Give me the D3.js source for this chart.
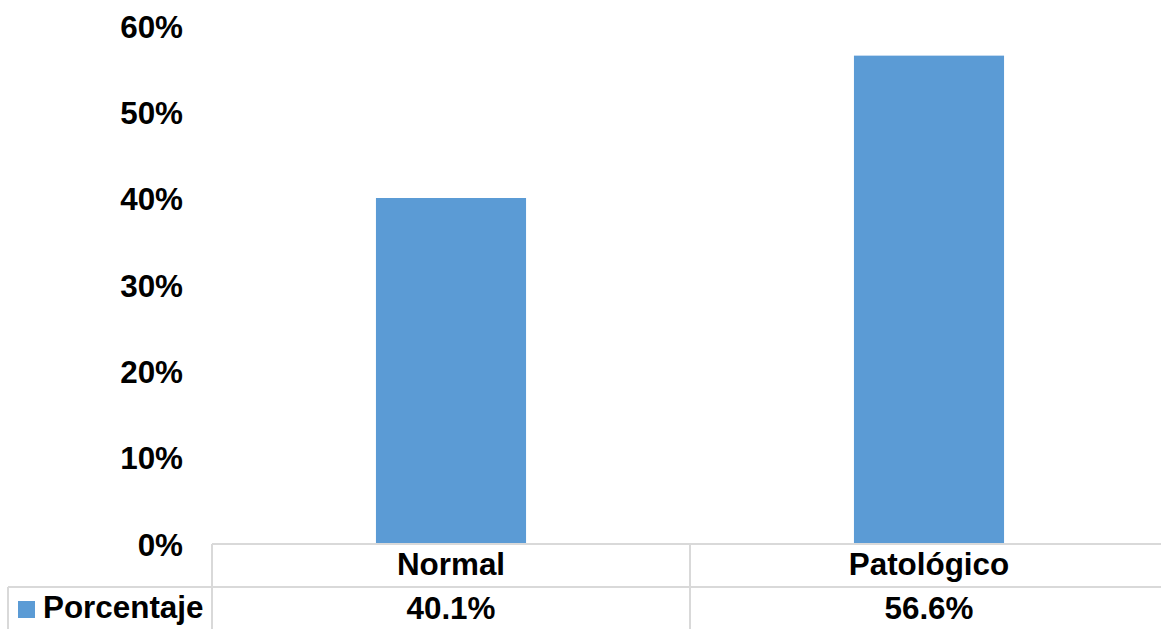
<!DOCTYPE html>
<html>
<head>
<meta charset="utf-8">
<script src="https://cdn.jsdelivr.net/npm/d3@7"></script>
<style>
html,body{margin:0;padding:0;background:#fff;overflow:hidden;}
text{font-family:Arial,"Liberation Sans",sans-serif;font-weight:bold;fill:#000;}
</style>
</head>
<body>
<svg id="chart" width="1161" height="629"></svg>
<script>
const categories = ["Normal", "Patológico"];
const values = [40.1, 56.6];
const valueLabels = ["40.1%", "56.6%"];
const yTicks = [0, 10, 20, 30, 40, 50, 60];
const seriesName = "Porcentaje";

const svg = d3.select("#chart");
const plotLeft = 212, plotRight = 1168, baseY = 544, topY = 26.3;
const row1 = 587, bottom = 640;
const fs = 31.4;
const blue = "#5B9BD5", grid = "#D9D9D9";

const x = d3.scaleBand().domain(categories).range([plotLeft, plotRight]).padding(0);
const y = d3.scaleLinear().domain([0, 60]).range([baseY, topY]);
const barW = x.bandwidth() * 0.314;

// bars
svg.selectAll("rect.bar").data(categories).enter().append("rect")
  .attr("class", "bar")
  .attr("x", d => x(d) + (x.bandwidth() - barW) / 2)
  .attr("width", barW)
  .attr("y", (d, i) => y(values[i]))
  .attr("height", (d, i) => y(0) - y(values[i]))
  .attr("fill", blue);

// y axis labels
const yAxis = d3.axisLeft(y).tickValues(yTicks).tickFormat(d => d + "%").tickSize(0).tickPadding(0);
const ya = svg.append("g").attr("transform", "translate(183,0)").call(yAxis);
ya.select(".domain").remove();
ya.selectAll("text").style("font-size", fs + "px").style("font-family", "Arial, 'Liberation Sans', sans-serif")
  .style("font-weight", "bold").attr("fill", "#000").attr("dy", "0.35em");

// table grid
const g = svg.append("g").attr("stroke", grid).attr("stroke-width", 2).attr("fill", "none");
g.append("line").attr("x1", plotLeft).attr("x2", 1161).attr("y1", baseY).attr("y2", baseY);
g.append("line").attr("x1", 8).attr("x2", 1161).attr("y1", row1).attr("y2", row1);
g.append("line").attr("x1", 8).attr("x2", 8).attr("y1", row1).attr("y2", bottom);
const vx = [plotLeft].concat(categories.map(c => x(c) + x.bandwidth()));
g.selectAll("line.v").data(vx).enter().append("line").attr("class", "v")
  .attr("x1", d => d).attr("x2", d => d).attr("y1", baseY).attr("y2", bottom);

// category labels
svg.selectAll("text.cat").data(categories).enter().append("text")
  .attr("class", "cat")
  .attr("x", d => x(d) + x.bandwidth() / 2)
  .attr("y", 575)
  .attr("text-anchor", "middle")
  .style("font-size", fs + "px")
  .text(d => d);

// value labels
svg.selectAll("text.val").data(categories).enter().append("text")
  .attr("class", "val")
  .attr("x", d => x(d) + x.bandwidth() / 2)
  .attr("y", 619)
  .attr("text-anchor", "middle")
  .style("font-size", fs + "px")
  .text((d, i) => valueLabels[i]);

// legend key
svg.append("rect").attr("x", 18).attr("y", 601).attr("width", 17).attr("height", 17).attr("fill", blue);
svg.append("text").attr("x", 43).attr("y", 618).style("font-size", fs + "px").text(seriesName);
</script>
</body>
</html>
